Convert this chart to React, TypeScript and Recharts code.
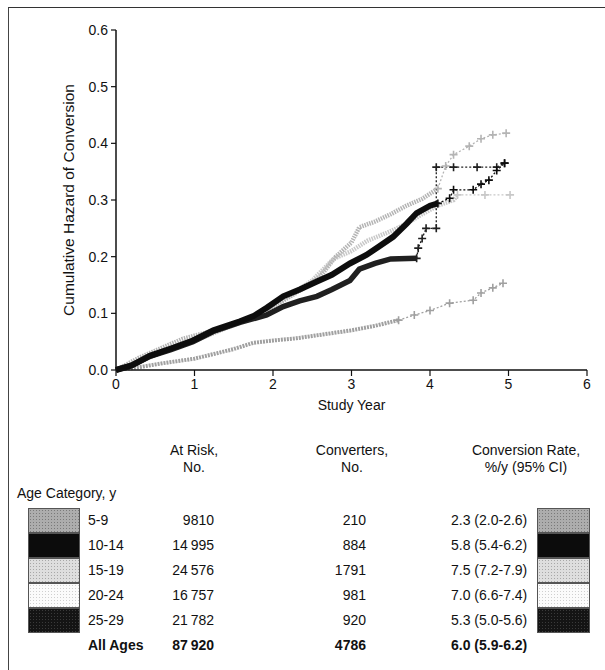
import React from 'react';
import { LineChart, Line, XAxis, YAxis, Label } from 'recharts';

const FONT = '"Liberation Sans Narrow", "Liberation Sans", Arial, sans-serif';

const xTicks = [0, 1, 2, 3, 4, 5, 6];
const yTicks = [0, 0.1, 0.2, 0.3, 0.4, 0.5, 0.6];

// cumulative hazard curves, [study year, hazard]
const age5to9 = [
  [0, 0], [0.3, 0.005], [0.6, 0.012], [1.0, 0.02], [1.3, 0.03], [1.5, 0.037], [1.75, 0.048],
  [2.0, 0.052], [2.3, 0.056], [2.5, 0.06], [2.8, 0.066], [3.0, 0.07], [3.3, 0.078], [3.6, 0.088],
  [3.8, 0.097], [4.0, 0.105], [4.25, 0.118], [4.55, 0.123], [4.65, 0.136], [4.8, 0.145], [4.93, 0.153],
];
const age10to14 = [
  [0, 0], [0.2, 0.008], [0.43, 0.025], [0.7, 0.038], [0.98, 0.052], [1.24, 0.07], [1.58, 0.086],
  [1.75, 0.095], [1.92, 0.11], [2.13, 0.13], [2.34, 0.142], [2.56, 0.156], [2.75, 0.168], [2.98, 0.188],
  [3.19, 0.203], [3.35, 0.218], [3.53, 0.235], [3.7, 0.258], [3.83, 0.277], [4.0, 0.29], [4.1, 0.294],
  [4.25, 0.303], [4.3, 0.318], [4.55, 0.318], [4.65, 0.328], [4.75, 0.335], [4.85, 0.352], [4.95, 0.365],
];
const age15to19 = [
  [0, 0], [0.3, 0.022], [0.6, 0.04], [0.85, 0.055], [1.2, 0.068], [1.5, 0.08], [1.8, 0.098],
  [2.1, 0.12], [2.4, 0.145], [2.6, 0.165], [2.8, 0.2], [3.0, 0.225], [3.1, 0.252], [3.3, 0.262],
  [3.5, 0.275], [3.7, 0.29], [3.9, 0.302], [4.1, 0.32], [4.2, 0.36], [4.3, 0.38], [4.5, 0.395],
  [4.65, 0.408], [4.8, 0.415], [4.97, 0.418],
];
const age20to24 = [
  [0, 0], [0.3, 0.015], [0.6, 0.032], [1.0, 0.052], [1.3, 0.068], [1.6, 0.085], [1.9, 0.105],
  [2.2, 0.13], [2.5, 0.158], [2.77, 0.196], [3.0, 0.21], [3.2, 0.228], [3.5, 0.245], [3.7, 0.258],
  [3.9, 0.275], [4.1, 0.29], [4.3, 0.3], [4.35, 0.309], [4.7, 0.309], [5.02, 0.309],
];
const age25to29 = [
  [0, 0], [0.2, 0.008], [0.43, 0.024], [0.7, 0.036], [0.98, 0.05], [1.24, 0.068], [1.58, 0.084],
  [1.92, 0.097], [2.13, 0.112], [2.34, 0.122], [2.56, 0.13], [2.75, 0.142], [2.98, 0.158], [3.1, 0.178],
  [3.3, 0.188], [3.5, 0.196], [3.83, 0.197], [3.85, 0.215], [3.9, 0.232], [3.95, 0.25], [4.08, 0.25],
  [4.08, 0.358], [4.3, 0.358], [4.6, 0.358], [4.85, 0.358], [4.95, 0.365],
];

const ageLabels = ['5-9', '10-14', '15-19', '20-24', '25-29'];
const atRisk = ['9810', '14\u2009995', '24\u2009576', '16\u2009757', '21\u2009782'];
const converters = ['210', '884', '1791', '981', '920'];
const rates = ['2.3 (2.0-2.6)', '5.8 (5.4-6.2)', '7.5 (7.2-7.9)', '7.0 (6.6-7.4)', '5.3 (5.0-5.6)'];
const totalRow = ['All Ages', '87\u2009920', '4786', '6.0 (5.9-6.2)'];

// tailFrom: year after which the curve is drawn as a thin dotted tail with censor marks
const curves = [
  { name: '20-24', pts: age20to24, color: '#c8c8c8', width: 4.5, dash: '1.5 1', tailFrom: 4.35 },
  { name: '15-19', pts: age15to19, color: '#b4b4b4', width: 4.5, dash: '1.5 1', tailFrom: 4.1 },
  { name: '5-9', pts: age5to9, color: '#a0a0a0', width: 4, dash: '2 1', tailFrom: 3.6 },
  { name: '25-29', pts: age25to29, color: '#202020', width: 5.5, dash: undefined, tailFrom: 3.83 },
  { name: '10-14', pts: age10to14, color: '#0d0d0d', width: 6, dash: undefined, tailFrom: 4.1 },
];

const swatch = [
  { bg: '#adadad', dot: '#7a7a7a' },
  { bg: '#0c0c0c', dot: '#0c0c0c' },
  { bg: '#dedede', dot: '#a8a8a8' },
  { bg: '#fbfbfb', dot: '#cfcfcf' },
  { bg: '#141414', dot: '#3a3a3a' },
];

const cross = (color: string) => (p: any) => {
  const { cx, cy, index } = p;
  if (cx == null || cy == null) return <g key={`n${index}`} />;
  return (
    <path
      key={`c${index}`}
      d={`M${cx - 4},${cy}H${cx + 4}M${cx},${cy - 4}V${cy + 4}`}
      stroke={color}
      strokeWidth={1.6}
      fill="none"
    />
  );
};

const rowTop = 508;
const rowH = 25;

const text: React.CSSProperties = { position: 'absolute', fontSize: 14, color: '#111', whiteSpace: 'nowrap', lineHeight: '16px' };

export default function App() {
  return (
    <div style={{ position: 'absolute', left: 0, top: 0, width: 605, height: 670, background: '#fff', fontFamily: FONT, overflow: 'hidden' }}>
      <div style={{ position: 'absolute', left: 8, top: 7, width: 600, height: 700, borderTop: '1.5px solid #333', borderLeft: '1.5px solid #444' }} />
      <div style={{ position: 'absolute', left: 0, top: 0 }}>
        <LineChart width={605} height={420} margin={{ top: 30, right: 18, bottom: 20, left: 56 }}>
          <XAxis
            type="number"
            dataKey="t"
            domain={[0, 6]}
            ticks={xTicks}
            height={30}
            tickSize={6}
            tickMargin={3}
            axisLine={{ stroke: '#111', strokeWidth: 1.5 }}
            tickLine={{ stroke: '#111', strokeWidth: 1.2 }}
            tick={{ fill: '#111', fontSize: 14 }}
            allowDuplicatedCategory={false}
          >
            <Label value="Study Year" position="bottom" offset={0} style={{ fill: '#111', fontSize: 14 }} />
          </XAxis>
          <YAxis
            type="number"
            dataKey="h"
            domain={[0, 0.6]}
            ticks={yTicks}
            width={60}
            tickSize={5}
            tickMargin={3}
            tickFormatter={(v: number) => v.toFixed(1)}
            axisLine={{ stroke: '#111', strokeWidth: 1.5 }}
            tickLine={{ stroke: '#111', strokeWidth: 1.2 }}
            tick={{ fill: '#111', fontSize: 14 }}
          >
            <Label value="Cumulative Hazard of Conversion" angle={-90} position="insideLeft" offset={12} style={{ fill: '#111', fontSize: 15.5, textAnchor: 'middle' }} />
          </YAxis>
          {curves.flatMap((c) => {
            const pts = c.pts.map(([t, h]) => ({ t, h }));
            const head = pts.filter((p) => p.t <= c.tailFrom);
            const tail = pts.filter((p) => p.t >= c.tailFrom);
            return [
              <Line
                key={`${c.name}-tail`}
                name={`${c.name} tail`}
                data={tail}
                dataKey="h"
                type="linear"
                stroke={c.color}
                strokeWidth={1.3}
                strokeDasharray="2 2"
                dot={cross(c.color)}
                activeDot={false}
                isAnimationActive={false}
              />,
              <Line
                key={c.name}
                name={c.name}
                data={head}
                dataKey="h"
                type="linear"
                stroke={c.color}
                strokeWidth={c.width}
                strokeDasharray={c.dash}
                dot={false}
                activeDot={false}
                isAnimationActive={false}
              />,
            ];
          })}
        </LineChart>
      </div>

      <div style={{ ...text, left: 150, top: 442, width: 88, textAlign: 'center' }}>At Risk,</div>
      <div style={{ ...text, left: 150, top: 459, width: 88, textAlign: 'center' }}>No.</div>
      <div style={{ ...text, left: 292, top: 442, width: 120, textAlign: 'center' }}>Converters,</div>
      <div style={{ ...text, left: 292, top: 459, width: 120, textAlign: 'center' }}>No.</div>
      <div style={{ ...text, left: 456, top: 442, width: 140, textAlign: 'center' }}>Conversion Rate,</div>
      <div style={{ ...text, left: 456, top: 459, width: 140, textAlign: 'center' }}>%/y (95% CI)</div>
      <div style={{ ...text, left: 17, top: 485 }}>Age Category, y</div>

      {ageLabels.map((lab, i) => {
        const top = rowTop + i * rowH;
        const sw: React.CSSProperties = {
          position: 'absolute',
          top,
          width: 52,
          height: rowH,
          boxSizing: 'border-box',
          border: '1px solid #555',
          backgroundColor: swatch[i].bg,
          backgroundImage: `radial-gradient(${swatch[i].dot} 0.7px, transparent 1px)`,
          backgroundSize: '3px 3px',
        };
        return (
          <React.Fragment key={lab}>
            <div style={{ ...sw, left: 28 }} />
            <div style={{ ...sw, left: 537, width: 53 }} />
            <div style={{ ...text, left: 88, top: top + 4 }}>{lab}</div>
            <div style={{ ...text, left: 150, top: top + 4, width: 64, textAlign: 'right' }}>{atRisk[i]}</div>
            <div style={{ ...text, left: 300, top: top + 4, width: 66, textAlign: 'right' }}>{converters[i]}</div>
            <div style={{ ...text, left: 451, top: top + 4 }}>{rates[i]}</div>
          </React.Fragment>
        );
      })}
      <div style={{ ...text, left: 88, top: rowTop + 5 * rowH + 4, fontWeight: 700 }}>{totalRow[0]}</div>
      <div style={{ ...text, left: 150, top: rowTop + 5 * rowH + 4, width: 64, textAlign: 'right', fontWeight: 700 }}>{totalRow[1]}</div>
      <div style={{ ...text, left: 300, top: rowTop + 5 * rowH + 4, width: 66, textAlign: 'right', fontWeight: 700 }}>{totalRow[2]}</div>
      <div style={{ ...text, left: 451, top: rowTop + 5 * rowH + 4, fontWeight: 700 }}>{totalRow[3]}</div>
    </div>
  );
}
